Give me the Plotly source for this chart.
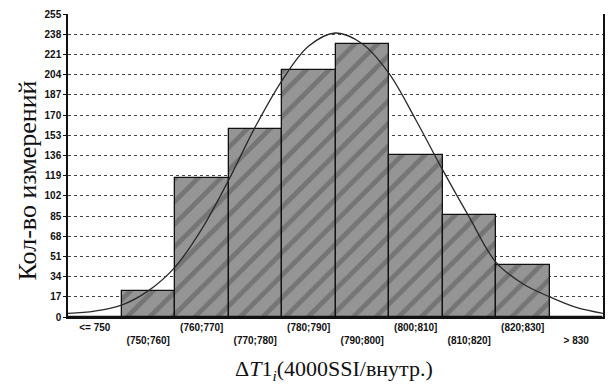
import plotly.graph_objects as go

# Histogram of measurements per temperature interval
bin_centers = [745, 755, 765, 775, 785, 795, 805, 815, 825, 835]
bin_labels = ["<= 750", "(750;760]", "(760;770]", "(770;780]", "(780;790]",
              "(790;800]", "(800;810]", "(810;820]", "(820;830]", "> 830"]
counts = [0, 22, 117, 158, 208, 230, 136, 86, 44, 0]

# Fitted normal curve, sampled every 5 units
curve_x = [740, 745, 750, 755, 760, 765, 770, 775, 780, 785, 790,
           795, 800, 805, 810, 815, 820, 825, 830, 835, 840]
curve_y = [3, 5, 10, 22, 42, 74, 115, 160, 199, 228, 239,
           230, 205, 166, 124, 84, 46, 28, 17, 8, 3]

y_ticks = [0, 17, 34, 51, 68, 85, 102, 119, 136, 153, 170, 187, 204, 221, 238, 255]

x_title = "Δ<i>T</i>1<sub><i>i</i></sub>(4000SSI/внутр.)"
y_title = "Кол-во измерений"

# Alternate label rows so neighbouring labels don't collide
tick_text = [lab if i % 2 == 0 else "<br>" + lab for i, lab in enumerate(bin_labels)]

serif = "Liberation Serif, Times New Roman, serif"
sans = "Liberation Sans, Arial, sans-serif"

fig = go.Figure()
fig.add_trace(go.Bar(
    x=bin_centers, y=counts, width=10,
    marker=dict(
        color="#8c8c8c",
        line=dict(color="#111111", width=1.3),
        pattern=dict(shape="/", fgcolor="#555555", bgcolor="#959595",
                     size=16, solidity=0.3),
    ),
    showlegend=False,
))
fig.add_trace(go.Scatter(
    x=curve_x, y=curve_y, mode="lines",
    line=dict(color="#2a2a2a", width=1.3, shape="spline"),
    showlegend=False,
))

fig.update_layout(
    width=613, height=388,
    margin=dict(l=68, r=8, t=14, b=71),
    paper_bgcolor="white", plot_bgcolor="white",
    bargap=0,
    xaxis=dict(
        range=[740, 840], tickmode="array", tickvals=bin_centers, ticktext=tick_text,
        tickfont=dict(family=sans, size=10, color="#111", weight="bold"),
        showgrid=False, zeroline=False,
        showline=True, linecolor="#111", linewidth=1.5, ticks="",
    ),
    yaxis=dict(
        range=[0, 255], tickmode="array", tickvals=y_ticks,
        tickfont=dict(family=sans, size=10, color="#111", weight="bold"),
        showgrid=True, gridcolor="#444", griddash="dot", gridwidth=1,
        zeroline=False, showline=True, linecolor="#111", linewidth=1.5,
        mirror=True, ticks="outside", ticklen=3, tickcolor="#111",
    ),
    annotations=[
        dict(text=x_title, xref="paper", yref="paper", x=0.497, y=-0.175,
             xanchor="center", yanchor="middle", showarrow=False,
             font=dict(family=serif, size=22, color="#111")),
        dict(text=y_title, xref="paper", yref="paper", x=-0.075, y=0.45,
             xanchor="center", yanchor="middle", textangle=-90, showarrow=False,
             font=dict(family=serif, size=26, color="#111")),
    ],
)

fig.write_html("out.html")
